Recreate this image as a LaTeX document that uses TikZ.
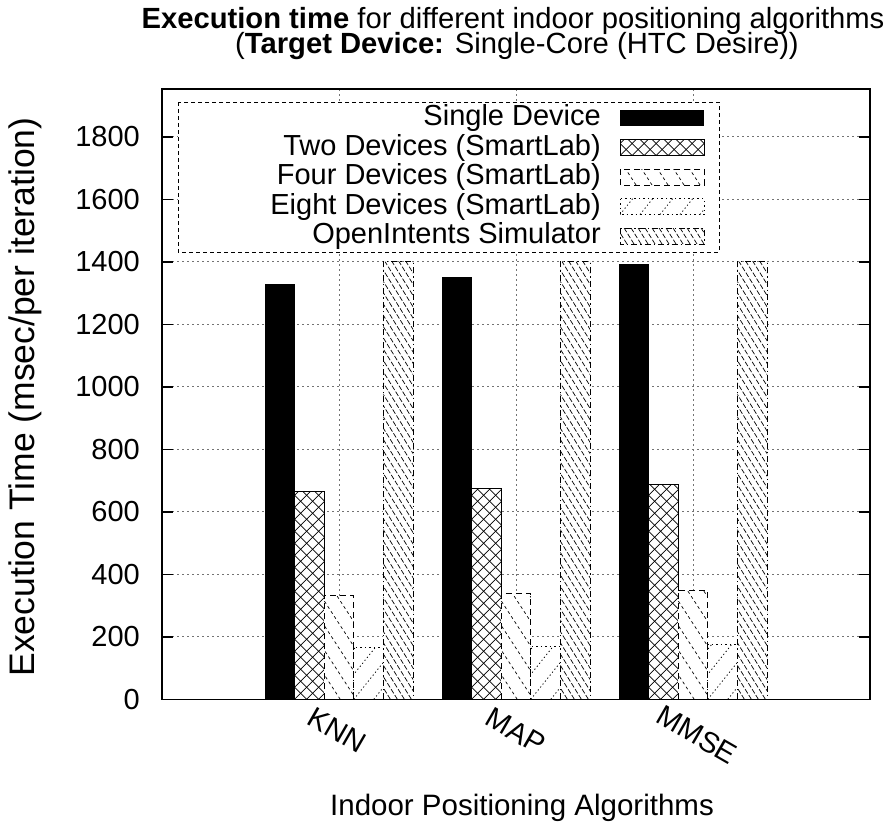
\documentclass[tikz,border=0pt]{standalone}
\usepackage{fontspec}
\setmainfont{Liberation Sans}

% Hatch a rectangle with parallel lines.
% #1 left x, #2 top y, #3 right x, #4 bottom y, #5 horizontal gap,
% #6 horizontal run per pixel of rise (+ gives "/", - gives "\"), #7 line style
\newcommand\hatchlines[7]{%
  \begin{scope}
    \clip (#1,#2) rectangle (#3,#4);
    \pgfmathsetmacro\hrise{(#4)-(#2)}%
    \pgfmathsetmacro\hrun{\hrise*(#6)}%
    \pgfmathtruncatemacro\kfirst{-abs(\hrun)/(#5)-2}%
    \pgfmathtruncatemacro\klast{((#3)-(#1)+abs(\hrun))/(#5)+2}%
    \foreach \k in {\kfirst,...,\klast}
      \draw[#7] ({(#1)+\k*(#5)},#4) -- ++(\hrun,-\hrise);
  \end{scope}}

\begin{document}
\begin{tikzpicture}[x=1pt,y=-1pt,
  txt/.style={font=\fontsize{29}{31}\selectfont, inner sep=0pt, text=black},
  bigtxt/.style={font=\fontsize{35.5}{37}\selectfont, inner sep=0pt, text=black},
  frameline/.style={line width=1.6pt, black},
  gridline/.style={line width=0.9pt, black!55, dash pattern=on 1.5pt off 3.5pt},
  hatchthin/.style={line width=0.7pt, black},
  bordsolid/.style={line width=0.9pt, black},
  borddash/.style={line width=1pt, black, dash pattern=on 6pt off 4pt},
  borddot/.style={line width=1pt, black, dash pattern=on 1.5pt off 3pt},
  borddashdot/.style={line width=1pt, black, dash pattern=on 6pt off 3pt on 1.5pt off 3pt},
  hatchdash/.style={line width=0.7pt, black, dash pattern=on 3pt off 3pt},
  hatchdot/.style={line width=0.8pt, black, dash pattern=on 1.2pt off 2.6pt},
  hatchdd/.style={line width=0.7pt, black, dash pattern=on 5pt off 2pt},
]
\useasboundingbox (0,0) rectangle (885,827);
\fill[white] (0,0) rectangle (885,827);

% plot area: x from 162 to 870, y from 89 (top) to 699.3 (value 0)
\def\yb{699.3}
\def\ys{0.3125}

% grid
\foreach \v in {200,400,...,1800}{
  \pgfmathsetmacro\gy{\yb-\ys*\v}
  \draw[gridline] (162,\gy) -- (870,\gy);
}
\foreach \gx in {339,516,693}
  \draw[gridline] (\gx,89) -- (\gx,\yb);

% bars: group centre / Single / Two / Four / Eight / OpenIntents
\foreach \cx/\va/\vb/\vc/\vd/\ve in {339/1329/664/332/166/1400,
                                     516/1350/674/337/169/1400,
                                     693/1392/686/348/174/1400}{
  \pgfmathsetmacro\xa{\cx-74}
  \pgfmathsetmacro\xb{\cx-44.4}
  \pgfmathsetmacro\xc{\cx-14.8}
  \pgfmathsetmacro\xd{\cx+14.8}
  \pgfmathsetmacro\xe{\cx+44.4}
  \pgfmathsetmacro\xf{\cx+74}
  \pgfmathsetmacro\ya{\yb-\ys*\va}
  \pgfmathsetmacro\yB{\yb-\ys*\vb}
  \pgfmathsetmacro\yc{\yb-\ys*\vc}
  \pgfmathsetmacro\yd{\yb-\ys*\vd}
  \pgfmathsetmacro\ye{\yb-\ys*\ve}
  % single device
  \fill[black] (\xa,\ya) rectangle (\xb,\yb);
  % two devices: crosshatch
  \fill[white] (\xb,\yB) rectangle (\xc,\yb);
  \hatchlines{\xb}{\yB}{\xc}{\yb}{12}{1}{hatchthin}
  \hatchlines{\xb}{\yB}{\xc}{\yb}{12}{-1}{hatchthin}
  \draw[bordsolid] (\xb,\yb) rectangle (\xc,\yB);
  % four devices
  \fill[white] (\xc,\yc) rectangle (\xd,\yb);
  \hatchlines{\xc}{\yc}{\xd}{\yb}{16}{-0.65}{hatchdash}
  \draw[borddash] (\xc,\yb) -- (\xc,\yc) -- (\xd,\yc) -- (\xd,\yb);
  % eight devices
  \fill[white] (\xd,\yd) rectangle (\xe,\yb);
  \hatchlines{\xd}{\yd}{\xe}{\yb}{20}{0.8}{hatchdot}
  \draw[borddot] (\xd,\yb) -- (\xd,\yd) -- (\xe,\yd) -- (\xe,\yb);
  % simulator
  \fill[white] (\xe,\ye) rectangle (\xf,\yb);
  \hatchlines{\xe}{\ye}{\xf}{\yb}{7}{-0.62}{hatchdd}
  \draw[borddashdot] (\xe,\yb) -- (\xe,\ye) -- (\xf,\ye) -- (\xf,\yb);
}

% key
\draw[fill=white, line width=0.9pt, dash pattern=on 4pt off 3pt] (178,102) rectangle (719,252);
\node[txt, anchor=east] (leg1) at (601,118) {Single Device};
\node[txt, anchor=east] (leg2) at (601,147.5) {Two Devices (SmartLab)};
\node[txt, anchor=east] (leg3) at (601,177) {Four Devices (SmartLab)};
\node[txt, anchor=east] (leg4) at (601,206.5) {Eight Devices (SmartLab)};
\node[txt, anchor=east] (leg5) at (601,236) {OpenIntents Simulator};
\fill[black] (620,110) rectangle (704,126);
\hatchlines{620}{139.5}{704}{155.5}{12}{1}{hatchthin}
\hatchlines{620}{139.5}{704}{155.5}{12}{-1}{hatchthin}
\draw[bordsolid] (620,139.5) rectangle (704,155.5);
\hatchlines{620}{169}{704}{185}{16}{-0.65}{hatchdash}
\draw[borddash] (620,169) rectangle (704,185);
\hatchlines{620}{198.5}{704}{214.5}{20}{0.8}{hatchdot}
\draw[borddot] (620,198.5) rectangle (704,214.5);
\hatchlines{620}{228}{704}{244}{7}{-0.62}{hatchdd}
\draw[borddashdot] (620,228) rectangle (704,244);

% frame and y tics
\draw[frameline] (162,89) rectangle (870,\yb);
\foreach \v in {0,200,...,1800}{
  \pgfmathsetmacro\ty{\yb-\ys*\v}
  \draw[frameline] (162,\ty) -- (173,\ty);
  \draw[frameline] (870,\ty) -- (859,\ty);
  \node[txt, anchor=east] (ytl\v) at (140,\ty) {\v};
}

% x tic labels
\node[txt, rotate=-30] (xtknn) at (337,730) {KNN};
\node[txt, rotate=-30] (xtmap) at (516,731) {MAP};
\node[txt, rotate=-30] (xtmmse) at (697,735) {MMSE};

% axis labels
\node[bigtxt, rotate=90] (ylabel) at (25,397) {Execution Time (msec/per iteration)};
\node[txt, anchor=base, font=\fontsize{29.5}{31}\selectfont] (xlabel) at (522,815) {Indoor Positioning Algorithms};

% title
\node[txt, anchor=base, font=\fontsize{29.2}{31}\selectfont] (title1) at (513,28) {\textbf{Execution time} for different indoor positioning algorithms};
\node[txt, anchor=base, font=\fontsize{29.2}{31}\selectfont] (title2) at (517,53) {(\textbf{Target Device:} Single-Core (HTC Desire))};
\end{tikzpicture}
\end{document}
